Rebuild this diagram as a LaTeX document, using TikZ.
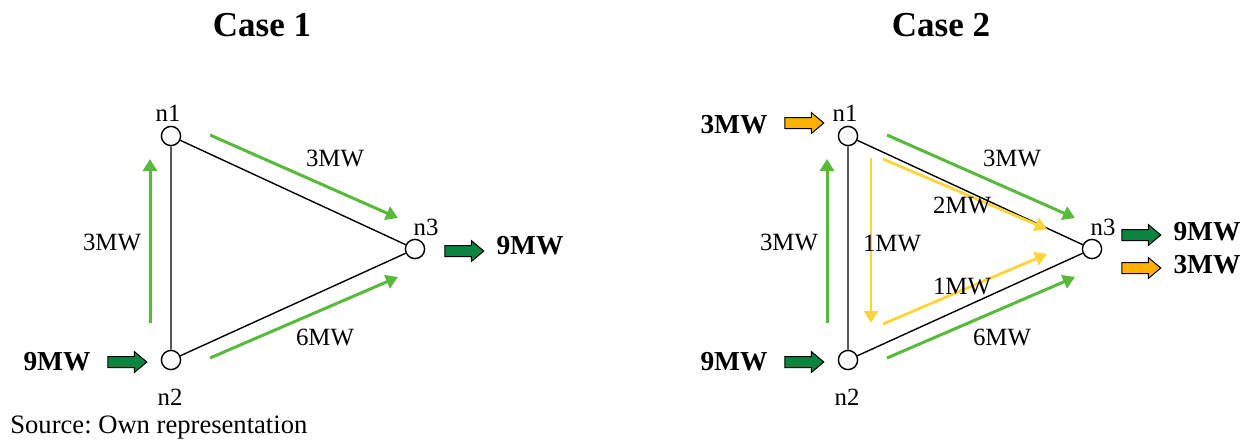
\documentclass[tikz,border=0pt]{standalone}
\usepackage{fontspec}
\setmainfont{Liberation Serif}
\usetikzlibrary{arrows.meta,shapes.arrows}
\definecolor{flowgreen}{RGB}{88,185,58}
\definecolor{flowyellow}{RGB}{255,212,56}
\definecolor{blockgreen}{RGB}{10,132,62}
\definecolor{blockorange}{RGB}{255,176,0}
\tikzset{
 bus/.style={circle,draw,line width=0.7pt,minimum size=9.6pt,inner sep=0pt,fill=white},
 tline/.style={line width=0.7pt},
 gflow/.style={draw=flowgreen,line width=1.5pt,-{Triangle[length=6pt,width=7pt]}},
 yflow/.style={draw=flowyellow,line width=1.4pt,-{Triangle[length=6pt,width=7pt]}},
 lab/.style={font=\fontsize{12.4pt}{14pt}\selectfont,inner sep=0pt},
 blab/.style={font=\fontsize{13.7pt}{16pt}\selectfont\bfseries,inner sep=0pt},
 ttl/.style={font=\fontsize{17.5pt}{20pt}\selectfont\bfseries,inner sep=0pt},
 blk/.style={single arrow,draw,line width=0.5pt,minimum height=19.5pt,
   text height=5pt,text depth=0pt,text width=0pt,
   single arrow head extend=2.5pt,inner sep=0pt,single arrow tip angle=80}
}
\begin{document}
\begin{tikzpicture}[x=0.5pt,y=-0.5pt]
\useasboundingbox (0,0) rectangle (1256,440);
% ---------------- Case 1 ----------------
\node[ttl] (t1) at (262,25) {Case 1};
\node[bus] (a1) at (171,136) {};
\node[bus] (a2) at (171,360) {};
\node[bus] (a3) at (415,249) {};
\draw[tline] (a1)--(a2) (a1)--(a3) (a2)--(a3);
\node[lab] (a1l) at (168,113) {n1};
\node[lab] (a2l) at (170,397) {n2};
\node[lab] (a3l) at (426,227) {n3};
\coordinate (ag1s) at (150,323); \coordinate (ag1e) at (150,159);
\coordinate (ag2s) at (210,135); \coordinate (ag2e) at (398,218);
\coordinate (ag3s) at (210,358); \coordinate (ag3e) at (398,277);
\draw[gflow] (ag1s)--(ag1e);
\draw[gflow] (ag2s)--(ag2e);
\draw[gflow] (ag3s)--(ag3e);
\node[lab] (al1) at (112,242) {3MW};
\node[lab] (al2) at (335,158) {3MW};
\node[lab] (al3) at (325,337) {6MW};
\node[blk,fill=blockgreen] (ain) at (124,362) {};
\node[blab] (ainl) at (57,362) {9MW};
\node[blk,fill=blockgreen] (aout) at (461,251) {};
\node[blab] (aoutl) at (530,246) {9MW};
\node[lab,font=\fontsize{13.3pt}{15pt}\selectfont,anchor=base west] (src) at (10,433) {\frenchspacing Source: Own representation};
% ---------------- Case 2 ----------------
\begin{scope}[shift={(677,0)}]
\node[ttl] (t2) at (264,25) {Case 2};
\node[bus] (b1) at (171,136) {};
\node[bus] (b2) at (171,360) {};
\node[bus] (b3) at (415,249) {};
\draw[tline] (b1)--(b2) (b1)--(b3) (b2)--(b3);
\node[lab] (b1l) at (168,113) {n1};
\node[lab] (b2l) at (170,397) {n2};
\node[lab] (b3l) at (426,227) {n3};
\coordinate (bg1s) at (150,323); \coordinate (bg1e) at (150,159);
\coordinate (bg2s) at (210,135); \coordinate (bg2e) at (398,218);
\coordinate (bg3s) at (210,358); \coordinate (bg3e) at (398,277);
\draw[gflow] (bg1s)--(bg1e);
\draw[gflow] (bg2s)--(bg2e);
\draw[gflow] (bg3s)--(bg3e);
\coordinate (by1s) at (194,158); \coordinate (by1e) at (194,323);
\coordinate (by2s) at (206,159); \coordinate (by2e) at (370,229);
\coordinate (by3s) at (206,324); \coordinate (by3e) at (370,254);
\draw[yflow] (by1s)--(by1e);
\draw[yflow] (by2s)--(by2e);
\draw[yflow] (by3s)--(by3e);
\node[lab] (bl1) at (112,242) {3MW};
\node[lab] (bl2) at (335,158) {3MW};
\node[lab] (bl3) at (325,337) {6MW};
\node[lab] (bl4) at (285,205) {2MW};
\node[lab] (bl5) at (215,243) {1MW};
\node[lab] (bl6) at (285,286) {1MW};
\node[blk,fill=blockorange] (bin1) at (124,123) {};
\node[blab] (bin1l) at (57,125) {3MW};
\node[blk,fill=blockgreen] (bin2) at (124,362) {};
\node[blab] (bin2l) at (57,362) {9MW};
\node[blk,fill=blockgreen] (bout1) at (461,235) {};
\node[blab] (bout1l) at (530,232) {9MW};
\node[blk,fill=blockorange] (bout2) at (461,268) {};
\node[blab] (bout2l) at (530,265) {3MW};
\end{scope}
\end{tikzpicture}
\end{document}
